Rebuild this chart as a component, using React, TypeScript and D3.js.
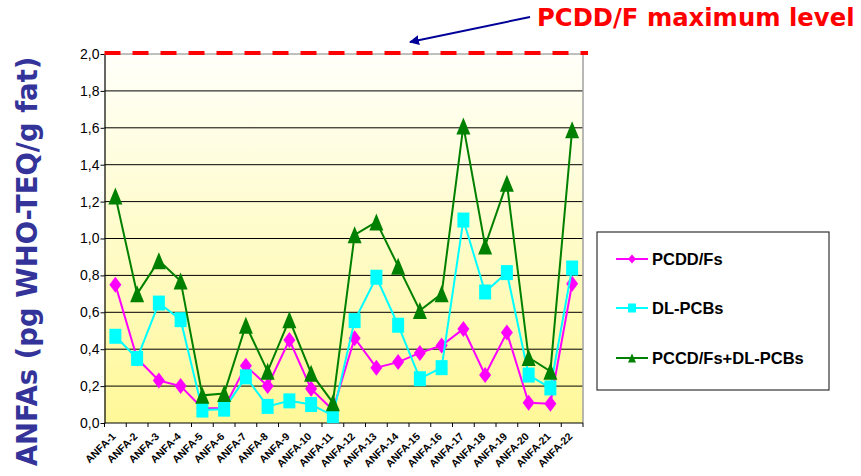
import React, { useEffect, useRef } from "react";
import * as d3 from "d3";

const categories = [
  "ANFA-1","ANFA-2","ANFA-3","ANFA-4","ANFA-5","ANFA-6","ANFA-7","ANFA-8","ANFA-9","ANFA-10","ANFA-11",
  "ANFA-12","ANFA-13","ANFA-14","ANFA-15","ANFA-16","ANFA-17","ANFA-18","ANFA-19","ANFA-20","ANFA-21","ANFA-22",
];
const pcddValues = [0.75,0.35,0.23,0.20,0.08,0.08,0.31,0.20,0.45,0.185,0.07,0.46,0.30,0.33,0.38,0.42,0.51,0.26,0.49,0.11,0.105,0.755];
const dlpcbValues = [0.47,0.35,0.65,0.56,0.07,0.075,0.25,0.09,0.12,0.10,0.04,0.555,0.79,0.53,0.24,0.30,1.10,0.71,0.815,0.26,0.19,0.84];
const totalValues = [1.23,0.70,0.88,0.77,0.15,0.16,0.53,0.28,0.56,0.27,0.11,1.02,1.09,0.85,0.61,0.70,1.61,0.96,1.30,0.355,0.28,1.59];
const yTicks = [0, 0.2, 0.4, 0.6, 0.8, 1.0, 1.2, 1.4, 1.6, 1.8, 2.0];
const maxLevel = 2.0;
const seriesNames = ["PCDD/Fs", "DL-PCBs", "PCCD/Fs+DL-PCBs"];
const titleText = "PCDD/F maximum level";
const yTitle = "ANFAs (pg WHO-TEQ/g fat)";

const colors = ["#FF00FF", "#00FFFF", "#008000"];
const shapes = ["diamond", "square", "triangle"];

function markerPath(shape: string, w: number, h: number) {
  const a = w / 2, b = h / 2;
  if (shape === "diamond") return `M0,${-b}L${a},0L0,${b}L${-a},0Z`;
  if (shape === "square") return `M${-a},${-b}L${a},${-b}L${a},${b}L${-a},${b}Z`;
  return `M0,${-b}L${a},${b}L${-a},${b}Z`;
}

export default function App() {
  const ref = useRef<SVGSVGElement>(null);
  useEffect(() => {
    const svg = d3.select(ref.current);
    svg.selectAll("*").remove();
    const W = 861, H = 476;
    const left = 104.5, right = 583, top = 54, bottom = 423;
    const x = d3.scaleBand().domain(categories).range([left, right]);
    const y = d3.scaleLinear().domain([0, 2]).range([bottom, top]);
    const cx = (c: string) => (x(c) as number) + x.bandwidth() / 2;

    const defs = svg.append("defs");
    const grad = defs.append("linearGradient").attr("id", "bg").attr("x1", 0).attr("y1", 0).attr("x2", 0).attr("y2", 1);
    grad.append("stop").attr("offset", "0%").attr("stop-color", "#FFFFFA");
    grad.append("stop").attr("offset", "100%").attr("stop-color", "#FFF898");

    svg.append("rect").attr("width", W).attr("height", H).attr("fill", "#fff");
    svg.append("rect").attr("x", left).attr("y", top).attr("width", right - left).attr("height", bottom - top).attr("fill", "url(#bg)");

    // gridlines
    svg.append("g").selectAll("line").data(yTicks.filter((t) => t > 0 && t < 2)).join("line")
      .attr("x1", left).attr("x2", right).attr("y1", (d) => y(d)).attr("y2", (d) => y(d))
      .attr("stroke", "#000").attr("stroke-width", 1);
    svg.append("line").attr("x1", right).attr("x2", right).attr("y1", top).attr("y2", bottom).attr("stroke", "#A0A0A0").attr("stroke-width", 1.5);
    svg.append("line").attr("x1", left).attr("x2", right).attr("y1", top).attr("y2", top).attr("stroke", "#808080").attr("stroke-width", 1);

    // y axis
    const yAxis = d3.axisLeft(y).tickValues(yTicks).tickSize(4).tickSizeOuter(0)
      .tickFormat((d) => d3.format(".1f")(d as number).replace(".", ","));
    const gy = svg.append("g").attr("transform", `translate(${left},0)`).call(yAxis);
    gy.attr("font-size", 14).attr("font-family", "Liberation Sans, Arial");
    gy.select(".domain").attr("stroke", "#000").attr("stroke-width", 1.2);
    gy.selectAll(".tick line").attr("stroke", "#000");
    gy.selectAll(".tick text").attr("fill", "#000").attr("x", -5).style("font-size", "14px");

    // x axis
    svg.append("line").attr("x1", left).attr("x2", right).attr("y1", bottom).attr("y2", bottom).attr("stroke", "#000").attr("stroke-width", 1.2);
    const bounds = categories.map((c) => x(c) as number).concat([right]);
    svg.append("g").selectAll("line").data(bounds).join("line")
      .attr("x1", (d) => d).attr("x2", (d) => d).attr("y1", bottom).attr("y2", bottom + 4).attr("stroke", "#000");
    svg.append("g").selectAll("text").data(categories).join("text")
      .attr("transform", (c) => `translate(${cx(c) + 1},${bottom + 14}) rotate(-45)`)
      .attr("text-anchor", "end")
      .attr("font-family", "Liberation Sans, Arial").attr("font-weight", "bold").attr("font-size", 10.5)
      .attr("fill", "#000").text((c) => c);

    // red dashed max level
    svg.append("line").attr("x1", left).attr("x2", 588).attr("y1", y(maxLevel) - 1).attr("y2", y(maxLevel) - 1)
      .attr("stroke", "#FF0000").attr("stroke-width", 4).attr("stroke-dasharray", "16,12");

    // series
    const allSeries = [pcddValues, dlpcbValues, totalValues];
    const sizes = [[12, 16], [12, 15], [14, 17]];
    allSeries.forEach((vals, i) => {
      const line = d3.line<number>().x((_, j) => cx(categories[j])).y((d) => y(d));
      svg.append("path").datum(vals).attr("d", line).attr("fill", "none").attr("stroke", colors[i]).attr("stroke-width", 2);
      svg.append("g").selectAll("path").data(vals).join("path")
        .attr("transform", (d, j) => `translate(${cx(categories[j])},${y(d)})`)
        .attr("d", markerPath(shapes[i], sizes[i][0], sizes[i][1]))
        .attr("fill", colors[i]);
    });

    // legend
    svg.append("rect").attr("x", 597).attr("y", 232).attr("width", 232).attr("height", 158)
      .attr("fill", "#fff").attr("stroke", "#333").attr("stroke-width", 1.2);
    const legY = [259, 308, 358];
    seriesNames.forEach((n, i) => {
      svg.append("line").attr("x1", 616).attr("x2", 648).attr("y1", legY[i]).attr("y2", legY[i]).attr("stroke", colors[i]).attr("stroke-width", 2);
      svg.append("path").attr("transform", `translate(632,${legY[i]})`).attr("d", markerPath(shapes[i], 8, 9)).attr("fill", colors[i]);
      svg.append("text").attr("x", 652).attr("y", legY[i] + 6).attr("font-family", "Liberation Sans, Arial")
        .attr("font-weight", "bold").attr("font-size", 16.5).attr("fill", "#000").text(n);
    });

    // title and arrow
    svg.append("text").attr("x", 537).attr("y", 26).attr("font-family", "DejaVu Sans, Verdana").attr("font-weight", "bold")
      .attr("font-size", 24.3).attr("fill", "#FF0000").text(titleText);
    defs.append("marker").attr("id", "arr").attr("viewBox", "0 0 10 10").attr("refX", 9).attr("refY", 5)
      .attr("markerWidth", 5).attr("markerHeight", 5).attr("orient", "auto")
      .append("path").attr("d", "M0,0L10,5L0,10Z").attr("fill", "#000099");
    svg.append("line").attr("x1", 530).attr("y1", 17).attr("x2", 410).attr("y2", 42)
      .attr("stroke", "#000099").attr("stroke-width", 2).attr("marker-end", "url(#arr)");

    // y title
    svg.append("text").attr("transform", `translate(37,261.5) rotate(-90)`).attr("text-anchor", "middle")
      .attr("font-family", "DejaVu Sans, Verdana").attr("font-weight", "bold").attr("font-size", 27.5)
      .attr("fill", "#333399").text(yTitle);
  }, []);
  return (
    <svg ref={ref} width={861} height={476} style={{ position: "absolute", left: 0, top: 0, display: "block" }} />
  );
}
